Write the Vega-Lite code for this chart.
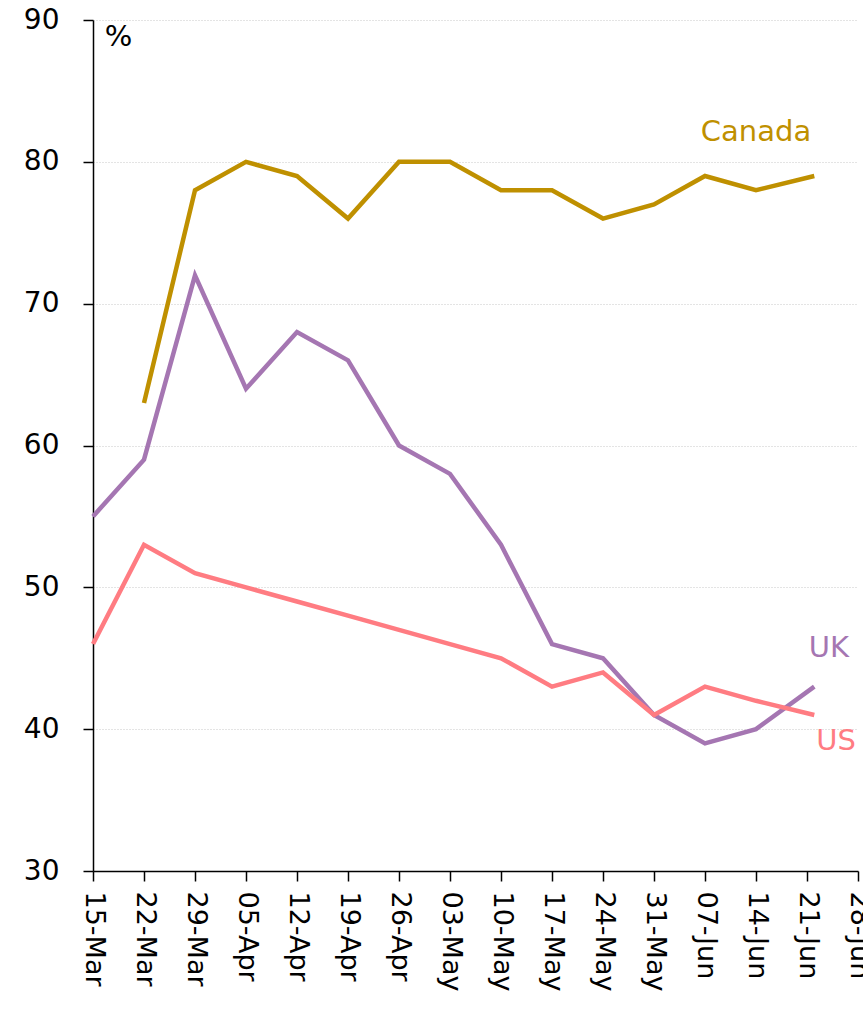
{
  "$schema": "https://vega.github.io/schema/vega-lite/v6.json",
  "autosize": "none",
  "width": 765,
  "height": 851,
  "padding": {"left": 93, "top": 20, "right": 5, "bottom": 138},
  "background": "white",
  "config": {
    "view": {"stroke": null},
    "font": "DejaVu Sans"
  },
  "datasets": {
    "series": [
      {"country": "Canada", "date": "2020/03/22", "value": 63},
      {"country": "Canada", "date": "2020/03/29", "value": 78},
      {"country": "Canada", "date": "2020/04/05", "value": 80},
      {"country": "Canada", "date": "2020/04/12", "value": 79},
      {"country": "Canada", "date": "2020/04/19", "value": 76},
      {"country": "Canada", "date": "2020/04/26", "value": 80},
      {"country": "Canada", "date": "2020/05/03", "value": 80},
      {"country": "Canada", "date": "2020/05/10", "value": 78},
      {"country": "Canada", "date": "2020/05/17", "value": 78},
      {"country": "Canada", "date": "2020/05/24", "value": 76},
      {"country": "Canada", "date": "2020/05/31", "value": 77},
      {"country": "Canada", "date": "2020/06/07", "value": 79},
      {"country": "Canada", "date": "2020/06/14", "value": 78},
      {"country": "Canada", "date": "2020/06/22", "value": 79},
      {"country": "UK", "date": "2020/03/15", "value": 55},
      {"country": "UK", "date": "2020/03/22", "value": 59},
      {"country": "UK", "date": "2020/03/29", "value": 72},
      {"country": "UK", "date": "2020/04/05", "value": 64},
      {"country": "UK", "date": "2020/04/12", "value": 68},
      {"country": "UK", "date": "2020/04/19", "value": 66},
      {"country": "UK", "date": "2020/04/26", "value": 60},
      {"country": "UK", "date": "2020/05/03", "value": 58},
      {"country": "UK", "date": "2020/05/10", "value": 53},
      {"country": "UK", "date": "2020/05/17", "value": 46},
      {"country": "UK", "date": "2020/05/24", "value": 45},
      {"country": "UK", "date": "2020/05/31", "value": 41},
      {"country": "UK", "date": "2020/06/07", "value": 39},
      {"country": "UK", "date": "2020/06/14", "value": 40},
      {"country": "UK", "date": "2020/06/22", "value": 43},
      {"country": "US", "date": "2020/03/15", "value": 46},
      {"country": "US", "date": "2020/03/22", "value": 53},
      {"country": "US", "date": "2020/03/29", "value": 51},
      {"country": "US", "date": "2020/04/05", "value": 50},
      {"country": "US", "date": "2020/04/12", "value": 49},
      {"country": "US", "date": "2020/04/19", "value": 48},
      {"country": "US", "date": "2020/04/26", "value": 47},
      {"country": "US", "date": "2020/05/03", "value": 46},
      {"country": "US", "date": "2020/05/10", "value": 45},
      {"country": "US", "date": "2020/05/17", "value": 43},
      {"country": "US", "date": "2020/05/24", "value": 44},
      {"country": "US", "date": "2020/05/31", "value": 41},
      {"country": "US", "date": "2020/06/07", "value": 43},
      {"country": "US", "date": "2020/06/14", "value": 42},
      {"country": "US", "date": "2020/06/22", "value": 41}
    ],
    "labels": [
      {"country": "Canada", "label": "Canada", "date": "2020/06/14", "value": 82.1},
      {"country": "UK", "label": "UK", "date": "2020/06/24", "value": 45.7},
      {"country": "US", "label": "US", "date": "2020/06/25", "value": 39.15},
      {"country": "unit", "label": "%", "date": "2020/03/18 12:00", "value": 88.8}
    ]
  },
  "encoding": {
    "x": {
      "field": "date",
      "type": "temporal",
      "scale": {
        "domain": [{"year": 2020, "month": 3, "date": 15}, {"year": 2020, "month": 6, "date": 28}]
      },
      "axis": {
        "title": null,
        "grid": false,
        "values": [
          {"year": 2020, "month": 3, "date": 15},
          {"year": 2020, "month": 3, "date": 22},
          {"year": 2020, "month": 3, "date": 29},
          {"year": 2020, "month": 4, "date": 5},
          {"year": 2020, "month": 4, "date": 12},
          {"year": 2020, "month": 4, "date": 19},
          {"year": 2020, "month": 4, "date": 26},
          {"year": 2020, "month": 5, "date": 3},
          {"year": 2020, "month": 5, "date": 10},
          {"year": 2020, "month": 5, "date": 17},
          {"year": 2020, "month": 5, "date": 24},
          {"year": 2020, "month": 5, "date": 31},
          {"year": 2020, "month": 6, "date": 7},
          {"year": 2020, "month": 6, "date": 14},
          {"year": 2020, "month": 6, "date": 21},
          {"year": 2020, "month": 6, "date": 28}
        ],
        "format": "%d-%b",
        "labelAngle": 90,
        "labelAlign": "left",
        "labelBaseline": "middle",
        "labelFontSize": 27,
        "labelColor": "black",
        "labelPadding": 10,
        "labelOverlap": false,
        "labelFlush": false,
        "domainColor": "black",
        "domainWidth": 1.5,
        "tickColor": "black",
        "tickWidth": 1.5,
        "tickSize": 10
      }
    },
    "y": {
      "field": "value",
      "type": "quantitative",
      "scale": {"domain": [30, 90], "nice": false, "zero": false},
      "axis": {
        "title": null,
        "values": [30, 40, 50, 60, 70, 80, 90],
        "labelFontSize": 28,
        "labelColor": "black",
        "labelPadding": 24,
        "domainColor": "black",
        "domainWidth": 1.5,
        "tickColor": "black",
        "tickWidth": 1.5,
        "tickSize": 10,
        "grid": true,
        "gridColor": "#c8c8c8",
        "gridDash": [1, 2],
        "gridWidth": 1
      }
    },
    "color": {
      "field": "country",
      "type": "nominal",
      "scale": {
        "domain": ["Canada", "UK", "US", "unit"],
        "range": ["#BF9000", "#A576B2", "#FF7C82", "#000000"]
      },
      "legend": null
    }
  },
  "layer": [
    {
      "data": {"name": "series"},
      "mark": {"type": "line", "strokeWidth": 4.5},
      "encoding": {"detail": {"field": "country"}}
    },
    {
      "data": {"name": "labels"},
      "mark": {"type": "text", "fontSize": 29, "align": "center", "baseline": "middle"},
      "encoding": {"text": {"field": "label"}}
    }
  ]
}
